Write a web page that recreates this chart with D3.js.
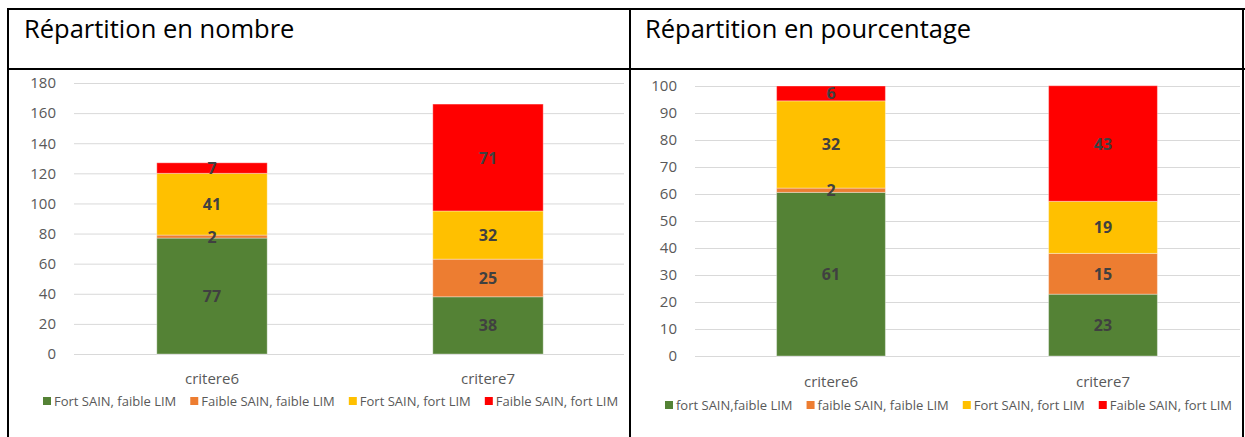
<!DOCTYPE html>
<html>
<head>
<meta charset="utf-8">
<script src="https://cdn.jsdelivr.net/npm/d3@7"></script>
<style>
  body { margin: 0; background: #fff; }
  text { font-family: "Open Sans", "Noto Sans", sans-serif; }
</style>
</head>
<body>
<div id="chart"></div>
<script>
// data
var categories = ["critere6", "critere7"];
var seriesNombre = ["Fort SAIN, faible LIM", "Faible SAIN, faible LIM", "Fort SAIN, fort LIM", "Faible SAIN, fort LIM"];
var seriesPourcentage = ["fort SAIN,faible LIM", "faible SAIN, faible LIM", "Fort SAIN, fort LIM", "Faible SAIN, fort LIM"];
var nombreCritere6 = [77, 2, 41, 7];
var nombreCritere7 = [38, 25, 32, 71];
var pctCritere6 = [60.6, 1.6, 32.3, 5.5];
var pctCritere7 = [22.9, 15.1, 19.3, 42.8];
var ticksNombre = [0, 20, 40, 60, 80, 100, 120, 140, 160, 180];
var ticksPct = [0, 10, 20, 30, 40, 50, 60, 70, 80, 90, 100];
var colors = ["#548235", "#ED7D31", "#FFC000", "#FF0000"];

var W = 1245, H = 437;

var svg = d3.select("#chart")
  .append("svg")
    .attr("width", W)
    .attr("height", H);

// table borders
var border = svg.append("g")
  .attr("stroke", "#000")
  .attr("stroke-width", 2);
border.append("line").attr("x1", 7).attr("x2", W).attr("y1", 9).attr("y2", 9);
border.append("line").attr("x1", 7).attr("x2", W).attr("y1", 69).attr("y2", 69);
border.append("line").attr("x1", 8).attr("x2", 8).attr("y1", 8).attr("y2", H);
border.append("line").attr("x1", 630).attr("x2", 630).attr("y1", 8).attr("y2", H);
border.append("line").attr("x1", 1243).attr("x2", 1243).attr("y1", 8).attr("y2", H);

function drawPanel(p) {
  var g = svg.append("g");

  g.append("text")
    .attr("x", p.titleX)
    .attr("y", 38)
    .attr("font-size", "25.5px")
    .attr("fill", "#000")
    .text(p.title);

  var y = d3.scaleLinear()
    .domain([0, p.max])
    .range([p.y0, p.y1]);

  var x = d3.scaleBand()
    .domain(categories)
    .range([p.left, p.right])
    .paddingInner(0.6)
    .paddingOuter(0.3);

  // gridlines + tick labels
  var yAxis = g.append("g")
    .attr("transform", "translate(" + p.left + ",0)")
    .call(d3.axisLeft(y).tickValues(p.ticks).tickSize(-(p.gridEnd - p.left)).tickPadding(p.tickPad));
  yAxis.select(".domain").remove();
  yAxis.selectAll(".tick line").attr("stroke", "#d9d9d9").attr("stroke-width", 1);
  yAxis.selectAll(".tick text")
    .attr("fill", "#595959")
    .attr("font-size", "15px")
    .style("font-family", "'Open Sans', sans-serif");

  var rows = categories.map(function(c, i) {
    var o = {cat: c};
    p.series.forEach(function(s, j) { o[s] = p.values[i][j]; });
    return o;
  });
  var stacked = d3.stack().keys(p.series)(rows);

  g.selectAll(".layer")
    .data(stacked)
    .enter().append("g")
    .attr("fill", function(d, i) { return colors[i]; })
    .selectAll("rect")
    .data(function(d) { return d; })
    .enter().append("rect")
    .attr("x", function(d) { return x(d.data.cat); })
    .attr("width", x.bandwidth())
    .attr("y", function(d) { return y(d[1]); })
    .attr("height", function(d) { return y(d[0]) - y(d[1]); })
    .attr("stroke", "#fff")
    .attr("stroke-opacity", 0.35)
    .attr("stroke-width", 1);

  // labels on top of every segment
  var segs = [];
  stacked.forEach(function(layer) { layer.forEach(function(d) { segs.push(d); }); });
  g.append("g").selectAll("text")
    .data(segs)
    .enter().append("text")
    .attr("x", function(d) { return x(d.data.cat) + x.bandwidth() / 2; })
    .attr("y", function(d) { return (y(d[0]) + y(d[1])) / 2 + 6; })
    .attr("text-anchor", "middle")
    .attr("font-size", "16px")
    .attr("font-weight", "bold")
    .attr("fill", "#404040")
    .text(function(d) { return Math.round(d[1] - d[0]); });

  // category labels
  g.selectAll(".cat")
    .data(categories)
    .enter().append("text")
    .attr("x", function(d) { return x(d) + x.bandwidth() / 2; })
    .attr("y", p.catY)
    .attr("text-anchor", "middle")
    .attr("font-size", "15px")
    .attr("fill", "#595959")
    .text(function(d) { return d; });

  // legend
  var lx = p.legendX;
  p.series.forEach(function(s, i) {
    g.append("rect")
      .attr("x", lx)
      .attr("y", p.legendY - 9)
      .attr("width", 8)
      .attr("height", 8)
      .attr("fill", colors[i]);
    var t = g.append("text")
      .attr("x", lx + 11)
      .attr("y", p.legendY)
      .attr("font-size", "13px")
      .attr("fill", "#595959")
      .text(s);
    lx += 11 + t.node().getComputedTextLength() + 14;
  });
}

drawPanel({
  title: "Répartition en nombre",
  titleX: 24,
  series: seriesNombre,
  values: [nombreCritere6, nombreCritere7],
  max: 180,
  ticks: ticksNombre,
  y0: 354, y1: 83,
  left: 74, right: 626, gridEnd: 624,
  tickPad: 18,
  catY: 384,
  legendX: 43, legendY: 406
});

drawPanel({
  title: "Répartition en pourcentage",
  titleX: 645,
  series: seriesPourcentage,
  values: [pctCritere6, pctCritere7],
  max: 100,
  ticks: ticksPct,
  y0: 356, y1: 86,
  left: 695, right: 1239, gridEnd: 1240,
  tickPad: 18,
  catY: 387,
  legendX: 665, legendY: 410
});
</script>
</body>
</html>
